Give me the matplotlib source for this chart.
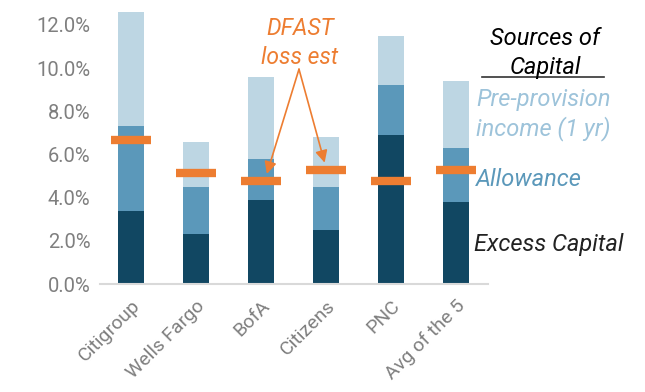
import matplotlib
matplotlib.use('Agg')
import matplotlib.pyplot as plt
import numpy as np
from matplotlib.lines import Line2D

plt.rcParams['font.family'] = ['Roboto', 'DejaVu Sans']

# данные (% от активов)
banks = ['Citigroup', 'Wells Fargo', 'BofA', 'Citizens', 'PNC', 'Avg of the 5']
excess_capital = [3.4, 2.3, 3.9, 2.5, 6.9, 3.8]
allowance = [3.9, 2.2, 1.9, 2.0, 2.3, 2.5]
pre_provision = [5.3, 2.1, 3.8, 2.3, 2.3, 3.1]
dfast_loss = [6.65, 5.15, 4.75, 5.3, 4.75, 5.3]

c_dark = '#114762'
c_mid = '#5B98BA'
c_light = '#BDD6E3'
c_orange = '#ED7D31'
c_grey = '#7F7F7F'

fig = plt.figure(figsize=(6.45, 3.92), dpi=100)
ax = fig.add_axes([0.155, 0.2755, 0.602, 0.716])

x = np.arange(len(banks))
w = 0.4
ax.bar(x, excess_capital, w, color=c_dark)
ax.bar(x, allowance, w, bottom=excess_capital, color=c_mid)
bottom2 = np.array(excess_capital) + np.array(allowance)
ax.bar(x, pre_provision, w, bottom=bottom2, color=c_light)

# оценка потерь DFAST
ax.hlines(dfast_loss, x - 0.31, x + 0.31, color=c_orange, linewidth=6)

ax.set_xlim(-0.48, 5.5)
ax.set_ylim(0, 13)
ax.set_yticks(np.arange(0, 13, 2))
ax.set_yticklabels([f'{v:.1f}%' for v in np.arange(0, 13, 2)], fontsize=14.5, color=c_grey)
ax.set_xticks(x)
ax.set_xticklabels(banks, rotation=45, ha='right', rotation_mode='anchor',
                   fontsize=14, color=c_grey)
ax.tick_params(length=0, pad=7)
ax.tick_params(axis='x', pad=9)
for s in ['top', 'right', 'left']:
    ax.spines[s].set_visible(False)
ax.spines['bottom'].set_color('#D9D9D9')
ax.spines['bottom'].set_linewidth(1.5)

# подпись и стрелки
ax.text(2.6, 11.85, 'DFAST', color=c_orange, fontsize=16.5, style='italic',
        ha='center', va='center')
ax.text(2.6, 10.5, 'loss est', color=c_orange, fontsize=16.5, style='italic',
        ha='center', va='center')
apex = (2.585, 9.95)
for tip in [(2.09, 5.1), (2.98, 5.62)]:
    ax.annotate('', xy=tip, xytext=apex,
                arrowprops=dict(arrowstyle='-|>', color=c_orange, lw=1.2,
                                mutation_scale=18, shrinkA=0, shrinkB=0))

# легенда справа
fig.text(0.845, 0.903, 'Sources of', ha='center', va='center', fontsize=17,
         style='italic', color='black')
fig.text(0.845, 0.827, 'Capital', ha='center', va='center', fontsize=17,
         style='italic', color='black')
fig.add_artist(Line2D([0.747, 0.937], [0.803, 0.803], color='#333333', lw=1.2))
fig.text(0.738, 0.745, 'Pre-provision', ha='left', va='center', fontsize=17,
         style='italic', color='#9DC3DA')
fig.text(0.738, 0.673, 'income (1 yr)', ha='left', va='center', fontsize=17,
         style='italic', color='#9DC3DA')
fig.text(0.738, 0.541, 'Allowance', ha='left', va='center', fontsize=17,
         style='italic', color=c_mid)
fig.text(0.735, 0.375, 'Excess Capital', ha='left', va='center', fontsize=17,
         style='italic', color='#222222')

fig.savefig('out.png', dpi=100)
